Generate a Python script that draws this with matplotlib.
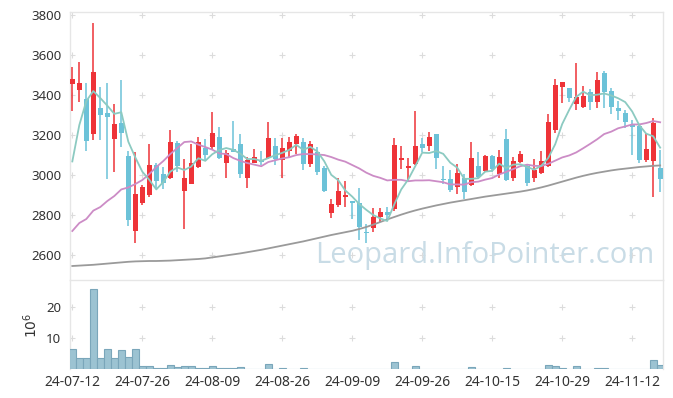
import matplotlib
matplotlib.use('Agg')
import matplotlib.pyplot as plt
import numpy as np

# 일봉 데이터 (시가, 고가, 저가, 종가) - 24-07-12 ~ 24-11-18
opens = [3457, 3427, 3380, 3207, 3333, 3310, 3182, 3262, 3093, 2722,
         2858, 2900, 3050, 3005, 2987, 3162, 2922, 2957, 3038, 3133,
         3142, 3190, 3062, 3130, 3155, 2987, 3062, 3077, 3087, 3145,
         3075, 3122, 3155, 3165, 3057, 3115, 3035, 2812, 2850, 2890,
         2868, 2858, 2715, 2733, 2792, 2813, 2828, 3077, 3037, 3053,
         3155, 3143, 3205, 2982, 2980, 2942, 2983, 2950, 3045, 3022,
         3093, 3007, 3178, 2987, 3067, 3045, 2987, 3008, 3047, 3225,
         3442, 3433, 3353, 3342, 3415, 3367, 3512, 3420, 3337, 3308,
         3253, 3245, 3075, 3070, 3037]
highs = [3538, 3563, 3458, 3758, 3442, 3458, 3353, 3473, 3122, 3117,
         2950, 3155, 3060, 3042, 3225, 3170, 3078, 3153, 3188, 3180,
         3315, 3238, 3125, 3270, 3203, 3092, 3128, 3122, 3263, 3183,
         3183, 3192, 3205, 3183, 3170, 3142, 3047, 2880, 2987, 2970,
         2870, 2933, 2755, 2837, 2833, 2842, 3187, 3145, 3087, 3322,
         3183, 3217, 3205, 3047, 3025, 3055, 3003, 3163, 3113, 3098,
         3100, 3123, 3228, 3088, 3120, 3050, 3078, 3120, 3303, 3478,
         3467, 3437, 3558, 3445, 3428, 3517, 3520, 3433, 3370, 3325,
         3275, 3255, 3212, 3283, 3125]
lows = [3322, 3367, 3122, 3173, 3175, 2978, 3013, 3142, 2747, 2658,
        2850, 2892, 2930, 2930, 2978, 3017, 2728, 2957, 3035, 3075,
        3125, 3078, 2987, 3113, 2985, 2933, 3058, 3050, 3080, 3050,
        2983, 3083, 3103, 3023, 3038, 3000, 2917, 2783, 2838, 2842,
        2780, 2675, 2660, 2717, 2763, 2780, 2822, 3028, 2972, 3050,
        3117, 3120, 3028, 2955, 2917, 2903, 2880, 2947, 2983, 3017,
        3017, 2983, 2970, 2972, 3058, 2947, 2967, 3005, 3042, 3208,
        3358, 3363, 3325, 3337, 3325, 3333, 3333, 3303, 3275, 3233,
        3100, 3058, 3067, 2888, 2917]
closes = [3480, 3460, 3170, 3513, 3300, 3292, 3255, 3212, 2777, 2905,
          2938, 3050, 2970, 2962, 3165, 3045, 2985, 3060, 3165, 3102,
          3210, 3087, 3112, 3117, 3007, 3075, 3090, 3067, 3185, 3078,
          3133, 3165, 3195, 3057, 3155, 3017, 2922, 2855, 2920, 2900,
          2862, 2738, 2708, 2792, 2813, 2800, 3150, 3083, 3045, 3143,
          3137, 3190, 3083, 2975, 2927, 3008, 2913, 3083, 2988, 3093,
          3030, 3090, 2975, 3070, 3105, 2958, 3025, 3070, 3265, 3450,
          3463, 3383, 3392, 3395, 3363, 3475, 3417, 3342, 3322, 3267,
          3242, 3075, 3128, 3258, 2980]

# 이동평균선
ma5 = [3068, 3250, 3370, 3420, 3385, 3347, 3306, 3314, 3167, 3088,
       3017, 2976, 2928, 2965, 3017, 3038, 3025, 3043, 3084, 3071,
       3104, 3125, 3135, 3126, 3107, 3080, 3080, 3071, 3085, 3099,
       3111, 3126, 3151, 3126, 3141, 3118, 3069, 3001, 2974, 2923,
       2892, 2855, 2826, 2800, 2783, 2770, 2853, 2928, 2978, 3044,
       3112, 3110, 3120, 3106, 3062, 3037, 2981, 2981, 2984, 3017,
       3021, 3057, 3035, 3052, 3054, 3040, 3027, 3046, 3085, 3154,
       3255, 3326, 3391, 3417, 3399, 3402, 3408, 3398, 3384, 3365,
       3318, 3250, 3207, 3194, 3137]
ma20 = [2720, 2760, 2780, 2822, 2840, 2870, 2895, 2928, 2938, 2955,
        2975, 3005, 3040, 3070, 3105, 3135, 3165, 3168, 3152, 3140,
        3127, 3108, 3105, 3085, 3071, 3060, 3052, 3044, 3065, 3074,
        3083, 3089, 3100, 3105, 3105, 3103, 3100, 3090, 3077, 3067,
        3050, 3033, 3012, 2996, 2986, 2973, 2976, 2976, 2969, 2973,
        2973, 2974, 2969, 2964, 2953, 2953, 2952, 2964, 2967, 2977,
        2985, 3003, 3016, 3030, 3044, 3052, 3046, 3045, 3056, 3072,
        3088, 3098, 3113, 3134, 3156, 3179, 3205, 3217, 3234, 3243,
        3253, 3253, 3260, 3270, 3264]
ma_long = [2545, 2547, 2549, 2551, 2554, 2557, 2560, 2563, 2566, 2568,
           2569, 2570, 2570, 2571, 2572, 2574, 2576, 2578, 2580, 2583,
           2588, 2593, 2598, 2603, 2608, 2614, 2620, 2626, 2633, 2640,
           2647, 2654, 2661, 2668, 2676, 2684, 2692, 2700, 2707, 2714,
           2721, 2730, 2740, 2752, 2765, 2778, 2790, 2802, 2813, 2823,
           2832, 2840, 2848, 2855, 2862, 2868, 2874, 2880, 2886, 2892,
           2897, 2902, 2907, 2912, 2917, 2923, 2930, 2938, 2947, 2957,
           2967, 2977, 2987, 2996, 3004, 3011, 3017, 3023, 3028, 3032,
           3036, 3040, 3043, 3046, 3048]

# 거래량 (백만)
volume = [6.3, 3.7, 3.4, 25.9, 3.4, 6.3, 3.4, 6.0, 4.0, 6.6,
          1.1, 1.1, 0.4, 0.4, 1.4, 0.7, 1.0, 1.0, 0.4, 0.4,
          1.0, 0.4, 0.4, 0.4, 0.7, 0.1, 0.1, 0.1, 1.6, 0.1,
          0.4, 0.1, 0.1, 0.4, 0.1, 0.1, 0.1, 0.1, 0.1, 0.1,
          0.1, 0.1, 0.1, 0.1, 0.02, 0.02, 2.1, 0.1, 0.1, 1.0,
          0.1, 0.1, 0.1, 0.1, 0.1, 0.1, 0.1, 0.7, 0.1, 0.1,
          0.1, 0.1, 0.4, 0.1, 0.1, 0.1, 0.1, 0.1, 1.4, 1.0,
          0.4, 0.1, 1.0, 0.1, 0.1, 0.4, 0.4, 0.1, 0.1, 0.1,
          0.1, 0.1, 0.1, 3.0, 1.4]

date_labels = ['24-07-12', '24-07-26', '24-08-09', '24-08-26', '24-09-09',
               '24-09-26', '24-10-15', '24-10-29', '24-11-12']
price_ticks = [2600, 2800, 3000, 3200, 3400, 3600, 3800]
vol_ticks = [10, 20]

UP = '#ee3338'
DOWN = '#6cc2d8'
GRID = '#dcdcdc'
FRAME = '#e6e6e6'

plt.rcParams['font.family'] = ['Noto Sans', 'DejaVu Sans']

fig = plt.figure(figsize=(6.73, 3.98), dpi=100)
ax = fig.add_axes([0.1033, 0.2965, 0.8818, 0.6726])
axv = fig.add_axes([0.1033, 0.0729, 0.8818, 0.2236], sharex=ax)

x = np.arange(len(closes))
o = np.array(opens)
c = np.array(closes)
colors = [UP if cc >= oo else DOWN for oo, cc in zip(o, c)]

# 캔들 그리기
ax.vlines(x, lows, highs, colors=colors, linewidth=1.1, zorder=3)
body_bottom = np.minimum(o, c)
body_h = np.maximum(np.abs(c - o), 6)
ax.bar(x, body_h, bottom=body_bottom, width=0.68, color=colors, zorder=4)

ax.plot(x, ma_long, color='#9a9a9a', linewidth=1.3, zorder=5)
ax.plot(x, ma20, color='#cc8cc6', linewidth=1.3, zorder=5)
ax.plot(x, ma5, color='#8ccac1', linewidth=1.3, zorder=5)

xt = list(range(0, len(closes), 10))

# 격자 대신 + 표시
gx, gy = np.meshgrid(xt, price_ticks)
ax.scatter(gx.ravel(), gy.ravel(), marker='+', s=14, color=GRID, linewidths=0.8, zorder=1)

ax.text(0.70, 0.09, 'Leopard.InfoPointer.com', transform=ax.transAxes,
        ha='center', va='center', fontsize=21, color='#c9dce6',
        family='Open Sans', zorder=2)

ax.set_xlim(-0.4, 84.4)
ax.set_ylim(2475, 3814)
ax.set_yticks(price_ticks)
ax.tick_params(axis='y', length=0, pad=6, labelsize=9.5, labelcolor='#333333')
ax.tick_params(axis='x', length=0, labelbottom=False)

# 거래량
axv.bar(x, volume, width=1.0, color='#9cc3d2', edgecolor='#7aa6ba', linewidth=0.8, zorder=3)
vx, vy = np.meshgrid(xt, vol_ticks)
axv.scatter(vx.ravel(), vy.ravel(), marker='+', s=14, color=GRID, linewidths=0.8, zorder=1)
axv.set_ylim(0, 28.7)
axv.set_yticks(vol_ticks)
axv.set_xticks(xt)
axv.set_xticklabels(date_labels)
axv.tick_params(axis='y', length=0, pad=6, labelsize=9.5, labelcolor='#333333')
axv.tick_params(axis='x', length=0, pad=4, labelsize=10, labelcolor='#333333')

for a in (ax, axv):
    for s in a.spines.values():
        s.set_color(FRAME)
        s.set_linewidth(1.0)
ax.spines['bottom'].set_visible(False)
axv.spines['bottom'].set_visible(False)

fig.text(32 / 673, 1 - 325 / 398, r'$10^6$', rotation=90, ha='center', va='center',
         fontsize=10, color='#333333')

fig.savefig('out.png', dpi=100)
